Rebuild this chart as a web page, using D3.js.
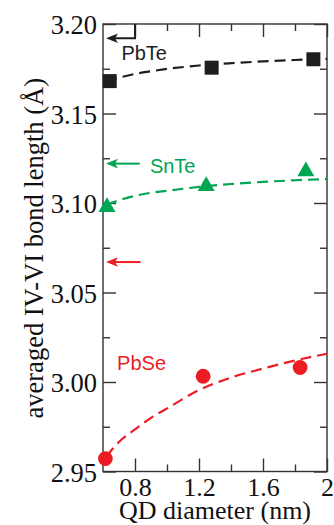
<!DOCTYPE html>
<html><head><meta charset="utf-8">
<script src="https://cdn.jsdelivr.net/npm/d3@7"></script>
<style>body{margin:0;background:#fff}svg{display:block}</style>
</head><body><svg id="c" width="334" height="525"></svg>
<script>
// ---- data ----
const pbteD = [0.642, 1.279, 1.915];
const pbteV = [3.1681, 3.1756, 3.1803];
const snteD = [0.625, 1.245, 1.868];
const snteV = [3.0977, 3.1094, 3.1177];
const pbseD = [0.615, 1.226, 1.832];
const pbseV = [2.9572, 3.0032, 3.0081];
const fitD    = [0.62, 0.7, 0.8, 0.9, 1.0, 1.2, 1.4, 1.6, 1.8, 2.0];
const pbteFit = [3.1680, 3.1700, 3.1721, 3.1736, 3.1749, 3.1768, 3.1781, 3.1791, 3.1799, 3.1805];
const snteFit = [3.0990, 3.1015, 3.1040, 3.1057, 3.1068, 3.1090, 3.1106, 3.1118, 3.1127, 3.1134];
const pbseFit = [2.9585, 2.9665, 2.9735, 2.9800, 2.9852, 2.9955, 3.0025, 3.0075, 3.0120, 3.0158];
const materials = ["PbTe", "SnTe", "PbSe"];
const bulkV     = [3.192, 3.122, 3.067];   // arrows (bulk values)
const arrowEndD = [0.80, 0.83, 0.835];
const labelD    = [0.715, 0.893, 0.688];
const labelV    = [3.1800, 3.1170, 3.0065];
const xTicksMajor = [0.8, 1.2, 1.6, 2.0];
const xTickLabels = ["0.8", "1.2", "1.6", "2"];
const xTicksMinor = [1.0, 1.4, 1.8];
const yTicksMajor = [2.95, 3.00, 3.05, 3.10, 3.15, 3.20];
const yTickLabels = ["2.95", "3.00", "3.05", "3.10", "3.15", "3.20"];
const yTicksMinor = [2.975, 3.025, 3.075, 3.125, 3.175];

// ---- layout ----
const L = 103, R = 327, T = 24, B = 471.5;
const x = d3.scaleLinear().domain([0.6, 2.0]).range([L, R]);
const y = d3.scaleLinear().domain([2.95, 3.20]).range([B, T]);
const BLACK = "#1e1e1e", GREEN = "#00a651", RED = "#ed1c24";
const colors = [BLACK, GREEN, RED];
const svg = d3.select("#c");
const serif = "'Liberation Serif','Times New Roman',serif";
const sans = "'Liberation Sans',Arial,Helvetica,sans-serif";
const axisCol = "#333";

// frame
svg.append("rect").attr("x", L).attr("y", T).attr("width", R - L).attr("height", B - T)
  .attr("fill", "none").attr("stroke", axisCol).attr("stroke-width", 1.4);

function addAxis(gen, tx, ty) {
  const g = svg.append("g").attr("transform", `translate(${tx},${ty})`).call(gen);
  g.select(".domain").remove();
  g.selectAll("line").attr("stroke", axisCol).attr("stroke-width", 1.4);
  return g;
}
// bottom
const gxb = addAxis(d3.axisBottom(x).tickValues(xTicksMajor).tickSize(-13).tickFormat((d, i) => xTickLabels[i]), 0, B);
gxb.selectAll("text").attr("font-family", serif).attr("font-size", 26).attr("fill", "#111")
  .attr("y", 24.5).attr("dy", 0);
addAxis(d3.axisBottom(x).tickValues(xTicksMinor).tickSize(-7).tickFormat(""), 0, B);
// top
addAxis(d3.axisTop(x).tickValues(xTicksMajor).tickSize(-13).tickFormat(""), 0, T);
addAxis(d3.axisTop(x).tickValues(xTicksMinor).tickSize(-7).tickFormat(""), 0, T);
// left
const gyl = addAxis(d3.axisLeft(y).tickValues(yTicksMajor).tickSize(-13).tickFormat((d, i) => yTickLabels[i]), L, 0);
gyl.selectAll("text").attr("font-family", serif).attr("font-size", 26.5).attr("fill", "#111")
  .attr("x", -6).attr("dy", "0.36em");
addAxis(d3.axisLeft(y).tickValues(yTicksMinor).tickSize(-7).tickFormat(""), L, 0);
// right
addAxis(d3.axisRight(y).tickValues(yTicksMajor).tickSize(-13).tickFormat(""), R, 0);
addAxis(d3.axisRight(y).tickValues(yTicksMinor).tickSize(-7).tickFormat(""), R, 0);

// axis titles
svg.append("text").attr("transform", `translate(43,${(T + B) / 2 + 0.5}) rotate(-90)`)
  .attr("text-anchor", "middle").attr("font-family", serif).attr("font-size", 26.5).attr("fill", "#111")
  .text("averaged IV-VI bond length (Å)");
svg.append("text").attr("x", 215).attr("y", 519).attr("text-anchor", "middle")
  .attr("font-family", serif).attr("font-size", 26).attr("fill", "#111")
  .text("QD diameter (nm)");

// fitted dashed curves
const line = d3.line().x(d => x(d[0])).y(d => y(d[1])).curve(d3.curveMonotoneX);
const fits = [pbteFit, snteFit, pbseFit];
fits.forEach((f, i) => {
  svg.append("path").datum(fitD.map((d, j) => [d, f[j]]))
    .attr("d", line).attr("fill", "none").attr("stroke", colors[i])
    .attr("stroke-width", 2.2).attr("stroke-dasharray", "11,6");
});

// markers
svg.append("g").selectAll("rect").data(pbteD.map((d, i) => [d, pbteV[i]])).join("rect")
  .attr("x", d => x(d[0]) - 7).attr("y", d => y(d[1]) - 7).attr("width", 14).attr("height", 14)
  .attr("fill", BLACK);
svg.append("g").selectAll("path").data(snteD.map((d, i) => [d, snteV[i]])).join("path")
  .attr("transform", d => `translate(${x(d[0])},${y(d[1])})`)
  .attr("d", d3.symbol(d3.symbolTriangle, 125)).attr("fill", GREEN);
svg.append("g").selectAll("circle").data(pbseD.map((d, i) => [d, pbseV[i]])).join("circle")
  .attr("cx", d => x(d[0])).attr("cy", d => y(d[1])).attr("r", 7.4).attr("fill", RED);

// bulk arrows
bulkV.forEach((v, i) => {
  const yy = y(v), x0 = x(0.6) + 3, x1 = x(arrowEndD[i]);
  let p = `M${x0 + 6},${yy}L${x1},${yy}`;
  if (i === 0) p += `L${x1},${y(3.20)}`;
  svg.append("path").attr("d", p).attr("fill", "none").attr("stroke", colors[i]).attr("stroke-width", 2);
  svg.append("path").attr("d", `M${x0},${yy}L${x0 + 12},${yy - 4.8}L${x0 + 9},${yy}L${x0 + 12},${yy + 4.8}Z`)
    .attr("fill", colors[i]);
});

// material labels
materials.forEach((m, i) => {
  svg.append("text").attr("x", x(labelD[i])).attr("y", y(labelV[i]))
    .attr("font-family", sans).attr("font-size", 20).attr("fill", colors[i]).text(m);
});
</script>
</body></html>
